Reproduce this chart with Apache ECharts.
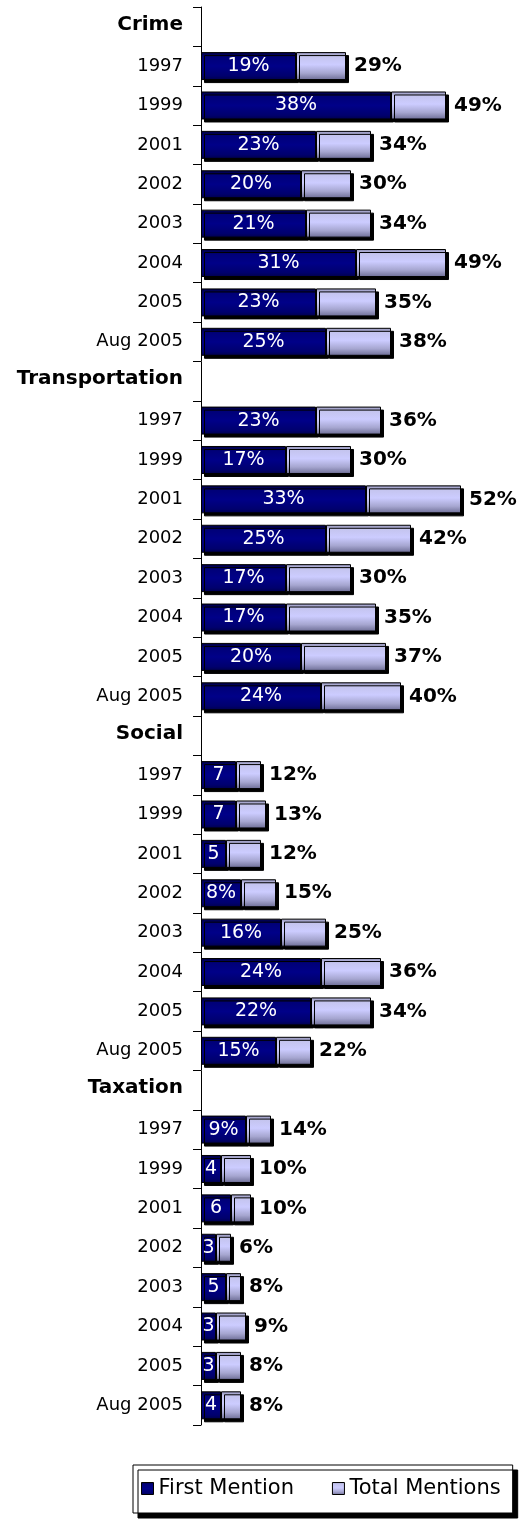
<!DOCTYPE html>
<html>
<head>
<meta charset="utf-8">
<script src="https://cdn.jsdelivr.net/npm/echarts@6/dist/echarts.min.js"></script>
<style>
  html, body { margin: 0; padding: 0; background: #fff; }
  #main { width: 529px; height: 1520px; }
</style>
</head>
<body>
<div id="main"></div>
<script>
// groups and years shown on the axis
const groups = ['Crime', 'Transportation', 'Social', 'Taxation']
const years = ['1997', '1999', '2001', '2002', '2003', '2004', '2005', 'Aug 2005']

// first mention / total mentions, in % (same order as years)
const crimeFirst = [19, 38, 23, 20, 21, 31, 23, 25]
const crimeTotal = [29, 49, 34, 30, 34, 49, 35, 38]
const transportFirst = [23, 17, 33, 25, 17, 17, 20, 24]
const transportTotal = [36, 30, 52, 42, 30, 35, 37, 40]
const socialFirst = [7, 7, 5, 8, 16, 24, 22, 15]
const socialTotal = [12, 13, 12, 15, 25, 36, 34, 22]
const taxFirst = [9, 4, 6, 3, 5, 3, 3, 4]
const taxTotal = [14, 10, 10, 6, 8, 9, 8, 8]

const firstByGroup = [crimeFirst, transportFirst, socialFirst, taxFirst]
const totalByGroup = [crimeTotal, transportTotal, socialTotal, taxTotal]

// build category rows: a header row per group, then the years
const categories = []
const firstData = []
const totalData = []
groups.forEach((g, gi) => {
  categories.push(g)
  firstData.push(null)
  totalData.push(null)
  years.forEach((y, yi) => {
    categories.push(g + '|' + y)
    firstData.push(firstByGroup[gi][yi])
    totalData.push(totalByGroup[gi][yi])
  })
})
const restData = totalData.map((t, i) => t == null ? null : t - firstData[i])

const font = 'DejaVu Sans, Verdana, sans-serif'

const option = {
  animation: false,
  textStyle: { fontFamily: font },
  grid: {
    left: 201,
    top: 7,
    width: 300,
    height: 1418
  },
  legend: {
    left: 133,
    top: 1465,
    icon: 'rect',
    itemWidth: 12,
    itemHeight: 12,
    itemGap: 38,
    padding: [13, 12, 14, 8],
    backgroundColor: '#fff',
    borderColor: '#000',
    borderWidth: 1,
    borderRadius: 0,
    shadowColor: '#000',
    shadowOffsetX: 5,
    shadowOffsetY: 5,
    shadowBlur: 0,
    itemStyle: { shadowColor: 'transparent', borderColor: '#000', borderWidth: 1 },
    textStyle: { fontSize: 21, color: '#000', fontFamily: font },
    data: ['First Mention', 'Total Mentions']
  },
  xAxis: {
    type: 'value',
    min: 0,
    max: 60,
    axisLine: { show: false },
    axisTick: { show: false },
    axisLabel: { show: false },
    splitLine: { show: false }
  },
  yAxis: {
    type: 'category',
    inverse: true,
    data: categories,
    axisLine: { show: true, lineStyle: { color: '#000', width: 1 } },
    axisTick: { show: true, length: 8, lineStyle: { color: '#000', width: 1 } },
    axisLabel: {
      margin: 18,
      fontSize: 18,
      color: '#000',
      fontFamily: font,
      formatter: v => v.indexOf('|') < 0 ? '{h|' + v + '}' : v.split('|')[1],
      rich: {
        h: { fontSize: 20, fontWeight: 'bold', color: '#000', fontFamily: font, padding: [0, 0, 4, 0] }
      }
    }
  },
  series: [
    {
      name: 'First Mention',
      type: 'bar',
      stack: 'm',
      barWidth: 28,
      data: firstData,
      itemStyle: {
        color: new echarts.graphic.LinearGradient(0, 0, 0, 1, [
          { offset: 0, color: '#00003c' },
          { offset: 0.18, color: '#000078' },
          { offset: 0.5, color: '#000088' },
          { offset: 0.85, color: '#00006e' },
          { offset: 1, color: '#00004a' }
        ]),
        borderColor: '#000',
        borderWidth: 1,
        shadowColor: '#000',
        shadowOffsetX: 3,
        shadowOffsetY: 3,
        shadowBlur: 0
      },
      label: {
        show: true,
        position: 'inside',
        color: '#fff',
        fontSize: 19,
        fontFamily: font,
        formatter: p => p.value < 8 ? String(p.value) : p.value + '%'
      }
    },
    {
      name: 'Total Mentions',
      type: 'bar',
      stack: 'm',
      barWidth: 28,
      data: restData,
      itemStyle: {
        color: new echarts.graphic.LinearGradient(0, 0, 0, 1, [
          { offset: 0, color: '#8c8cb0' },
          { offset: 0.15, color: '#c4c4ee' },
          { offset: 0.45, color: '#ccccff' },
          { offset: 0.75, color: '#a6a6d0' },
          { offset: 1, color: '#6c6c94' }
        ]),
        borderColor: '#000',
        borderWidth: 1,
        shadowColor: '#000',
        shadowOffsetX: 3,
        shadowOffsetY: 3,
        shadowBlur: 0
      },
      label: {
        show: true,
        position: 'right',
        distance: 8,
        color: '#000',
        fontSize: 20,
        fontWeight: 'bold',
        fontFamily: font,
        formatter: p => totalData[p.dataIndex] + '%'
      }
    }
  ]
}

const myChart = echarts.init(document.getElementById('main'))
myChart.setOption(option)
</script>
</body>
</html>
